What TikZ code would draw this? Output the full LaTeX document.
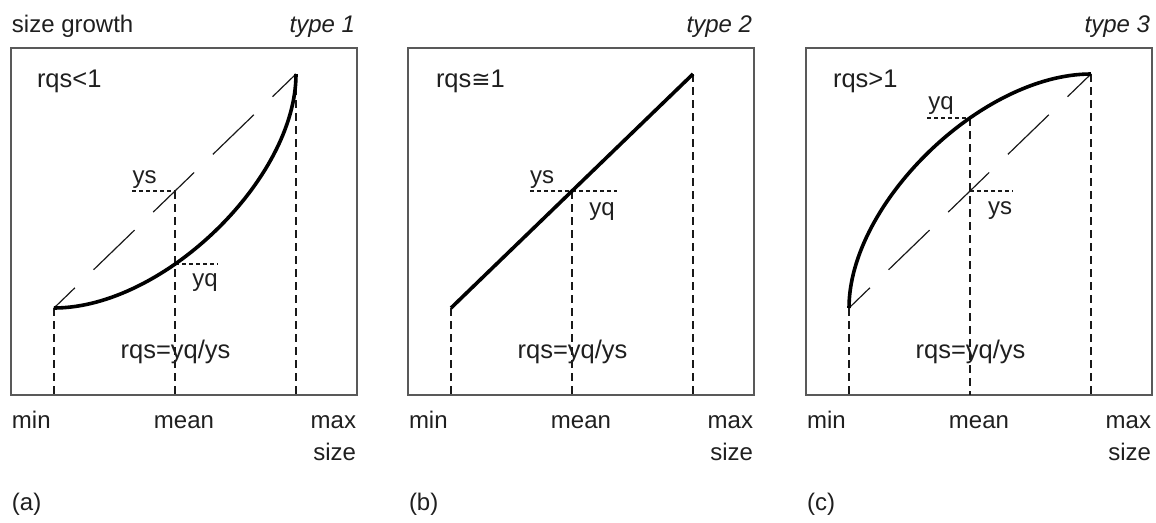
\documentclass[tikz,border=0pt]{standalone}
\usepackage{fontspec}
\setmainfont{Liberation Sans}
\newfontfamily\symfont{DejaVu Sans}
\begin{document}
\begin{tikzpicture}[x=1pt,y=-1pt,
  txt/.style={inner sep=0pt,outer sep=0pt,text=black!88,font=\fontsize{24}{28}\selectfont},
  big/.style={txt,font=\fontsize{25.5}{28}\selectfont},
  frame/.style={draw=black!65,line width=1.3pt},
  curve/.style={draw=black,line width=3.6pt},
  diag/.style={draw=black!90,line width=1.2pt,dash pattern=on 57pt off 26pt,dash phase=28pt},
  vdash/.style={draw=black!90,line width=1.6pt,dash pattern=on 8pt off 5pt},
  hdash/.style={draw=black!90,line width=1.3pt,dash pattern=on 4pt off 3pt}]
\useasboundingbox (0,0) rectangle (1156,522);

% ================= panel (a) =================
\draw[frame] (11,48) rectangle (357,395);
\coordinate (a0) at (54,308);
\coordinate (a1) at (296,74);
\coordinate (ams) at (175,191);
\coordinate (amq) at (175,264);
\coordinate (aysl) at (132,191);
\coordinate (ayqr) at (218,264);
\coordinate (aminb) at (54,395);
\coordinate (ameanb) at (175,395);
\coordinate (amaxb) at (296,395);
\draw[vdash] (a0) -- (aminb);
\draw[vdash] (ams) -- (ameanb);
\draw[vdash] (a1) -- (amaxb);
\draw[hdash] (aysl) -- (ams);
\draw[hdash] (amq) -- (ayqr);
\draw[diag] (a0) -- (a1);
\draw[curve] (a0) .. controls (163,308) and (296,179) .. (a1);
\node[txt,anchor=base west] (asg) at (12,32) {size growth};
\node[txt,anchor=base east] (aty) at (355,32) {\itshape type 1};
\node[big,anchor=base west] (arq) at (37,87) {rqs<1};
\node[txt,anchor=base] (ays) at (144.5,183) {ys};
\node[txt,anchor=base] (ayq) at (205,286) {yq};
\node[big,anchor=base] (arat) at (175.5,358) {rqs=yq/ys};
\node[txt,anchor=base west] (amin) at (12,428) {min};
\node[txt,anchor=base] (amean) at (184,428) {mean};
\node[txt,anchor=base east] (amax) at (356,428) {max};
\node[txt,anchor=base east] (asize) at (356,460) {size};
\node[txt,anchor=base west] (alab) at (12,510) {(a)};

% ================= panel (b) =================
\draw[frame] (408,48) rectangle (754,395);
\coordinate (b0) at (451,308);
\coordinate (b1) at (693,74);
\coordinate (bms) at (572,191);
\coordinate (bysl) at (530,191);
\coordinate (bysr) at (617,191);
\coordinate (bminb) at (451,395);
\coordinate (bmeanb) at (572,395);
\coordinate (bmaxb) at (693,395);
\draw[vdash] (b0) -- (bminb);
\draw[vdash] (bms) -- (bmeanb);
\draw[vdash] (b1) -- (bmaxb);
\draw[hdash] (bysl) -- (bysr);
\draw[curve] (b0) -- (b1);
\node[txt,anchor=base east] (bty) at (752,32) {\itshape type 2};
\node[big,anchor=base west] (brq) at (436,87) {rqs{\symfont\fontsize{23}{24}\selectfont ≅}1};
\node[txt,anchor=base] (bys) at (542,183) {ys};
\node[txt,anchor=base] (byq) at (602,215) {yq};
\node[big,anchor=base] (brat) at (572.5,358) {rqs=yq/ys};
\node[txt,anchor=base west] (bmin) at (409,428) {min};
\node[txt,anchor=base] (bmean) at (581,428) {mean};
\node[txt,anchor=base east] (bmax) at (753,428) {max};
\node[txt,anchor=base east] (bsize) at (753,460) {size};
\node[txt,anchor=base west] (blab) at (409,510) {(b)};

% ================= panel (c) =================
\draw[frame] (806,48) rectangle (1152,395);
\coordinate (c0) at (849,308);
\coordinate (c1) at (1091,74);
\coordinate (cmq) at (970,118);
\coordinate (cms) at (970,191);
\coordinate (cyql) at (927,118);
\coordinate (cysr) at (1013,191);
\coordinate (cminb) at (849,395);
\coordinate (cmeanb) at (970,395);
\coordinate (cmaxb) at (1091,395);
\draw[vdash] (c0) -- (cminb);
\draw[vdash] (cmq) -- (cmeanb);
\draw[vdash] (c1) -- (cmaxb);
\draw[hdash] (cyql) -- (cmq);
\draw[hdash] (cms) -- (cysr);
\draw[diag] (c0) -- (c1);
\draw[curve] (c0) .. controls (849,203) and (982,74) .. (c1);
\node[txt,anchor=base east] (cty) at (1150,32) {\itshape type 3};
\node[big,anchor=base west] (crq) at (833,87) {rqs>1};
\node[txt,anchor=base] (cyq) at (941,109) {yq};
\node[txt,anchor=base] (cys) at (1000,214) {ys};
\node[big,anchor=base] (crat) at (970.5,358) {rqs=yq/ys};
\node[txt,anchor=base west] (cmin) at (807,428) {min};
\node[txt,anchor=base] (cmean) at (979,428) {mean};
\node[txt,anchor=base east] (cmax) at (1151,428) {max};
\node[txt,anchor=base east] (csize) at (1151,460) {size};
\node[txt,anchor=base west] (clab) at (807,510) {(c)};
\end{tikzpicture}
\end{document}
